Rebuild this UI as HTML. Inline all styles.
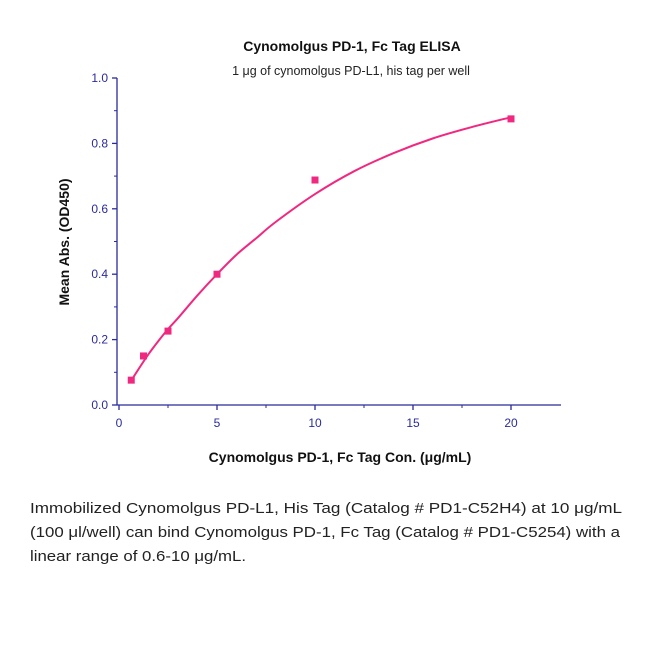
<!DOCTYPE html>
<html><head><meta charset="utf-8"><style>
body{margin:0;background:#fff;width:650px;height:650px;overflow:hidden;font-family:"Liberation Sans",sans-serif}
</style></head><body>
<svg id="chart" width="650" height="480" style="position:absolute;left:0;top:0" font-family="Liberation Sans, sans-serif"></svg>
<svg width="650" height="100" style="position:absolute;left:0;top:490px" font-family="Liberation Sans, sans-serif" font-size="15" fill="#222">
<text x="30" y="23" textLength="592" lengthAdjust="spacingAndGlyphs">Immobilized Cynomolgus PD-L1, His Tag (Catalog # PD1-C52H4) at 10 μg/mL</text>
<text x="30" y="47" textLength="590" lengthAdjust="spacingAndGlyphs">(100 μl/well) can bind Cynomolgus PD-1, Fc Tag (Catalog # PD1-C5254) with a</text>
<text x="30" y="71" textLength="216" lengthAdjust="spacingAndGlyphs">linear range of 0.6-10 μg/mL.</text>
</svg>
<script>
const xTicks=[0,5,10,15,20];
const yTicks=[0.0,0.2,0.4,0.6,0.8,1.0];
const concs=[0.625,1.25,2.5,5,10,20];
const absVals=[0.076,0.15,0.226,0.40,0.688,0.875];
const fitX=[0.625,1,1.5,2,2.5,3,4,5,6,7,8,10,12,14,16,18,20];
const fitY=[0.075,0.11,0.155,0.195,0.232,0.265,0.335,0.40,0.46,0.51,0.56,0.645,0.715,0.77,0.815,0.85,0.88];
const svg=document.getElementById('chart');const NS='http://www.w3.org/2000/svg';
const sx=v=>119+v*19.6, sy=v=>405-v*327;
const AX='#2b2b9a';
function mk(t,a,p){const e=document.createElementNS(NS,t);for(const k in a)e.setAttribute(k,a[k]);(p||svg).appendChild(e);return e;}
let e;
e=mk('text',{x:352,y:51,'text-anchor':'middle','font-size':14,'font-weight':'bold',fill:'#111'});e.textContent='Cynomolgus PD-1, Fc Tag ELISA';


e=mk('text',{x:351,y:75,'text-anchor':'middle','font-size':12.5,fill:'#222'});e.textContent='1 μg of cynomolgus PD-L1, his tag per well';


e=mk('line',{x1:117,y1:405,x2:561,y2:405,stroke:AX,'stroke-width':1.3});


e=mk('line',{x1:117,y1:405,x2:117,y2:78,stroke:AX,'stroke-width':1.3});


xTicks.forEach(t=>{mk('line',{x1:sx(t),y1:405,x2:sx(t),y2:410,stroke:AX,'stroke-width':1.3});
 if(t<20)mk('line',{x1:sx(t+2.5),y1:405,x2:sx(t+2.5),y2:408,stroke:AX});
 e=mk('text',{x:sx(t),y:427,'text-anchor':'middle','font-size':12,fill:AX});e.textContent=t;
 
 });
yTicks.forEach(t=>{mk('line',{x1:112,y1:sy(t),x2:117,y2:sy(t),stroke:AX,'stroke-width':1.3});
 if(t<1)mk('line',{x1:114,y1:sy(t+0.1),x2:117,y2:sy(t+0.1),stroke:AX});
 e=mk('text',{x:108,y:sy(t)+4,'text-anchor':'end','font-size':12,fill:AX});e.textContent=t.toFixed(1);
 
 });
e=mk('text',{x:340,y:462,'text-anchor':'middle','font-size':14,'font-weight':'bold',fill:'#111'});e.textContent='Cynomolgus PD-1, Fc Tag Con. (μg/mL)';


e=mk('text',{x:0,y:0,'text-anchor':'middle','font-size':14,'font-weight':'bold',fill:'#111',transform:'translate(69,242) rotate(-90)'});e.textContent='Mean Abs. (OD450)';


const P=fitX.map((x,i)=>[sx(x),sy(fitY[i])]);
let d='M'+P[0][0]+','+P[0][1];
for(let i=0;i<P.length-1;i++){const p0=P[i-1]||P[i],p1=P[i],p2=P[i+1],p3=P[i+2]||P[i+1];
 d+=' C'+(p1[0]+(p2[0]-p0[0])/6)+','+(p1[1]+(p2[1]-p0[1])/6)+' '+(p2[0]-(p3[0]-p1[0])/6)+','+(p2[1]-(p3[1]-p1[1])/6)+' '+p2[0]+','+p2[1];}
e=mk('path',{d:d,fill:'none',stroke:'#f0287f','stroke-width':2});


concs.forEach((c,i)=>{e=mk('rect',{x:sx(c)-3.5,y:sy(absVals[i])-3.5,width:7,height:7,fill:'#f0287f'});
 
 });
</script>
</body></html>
